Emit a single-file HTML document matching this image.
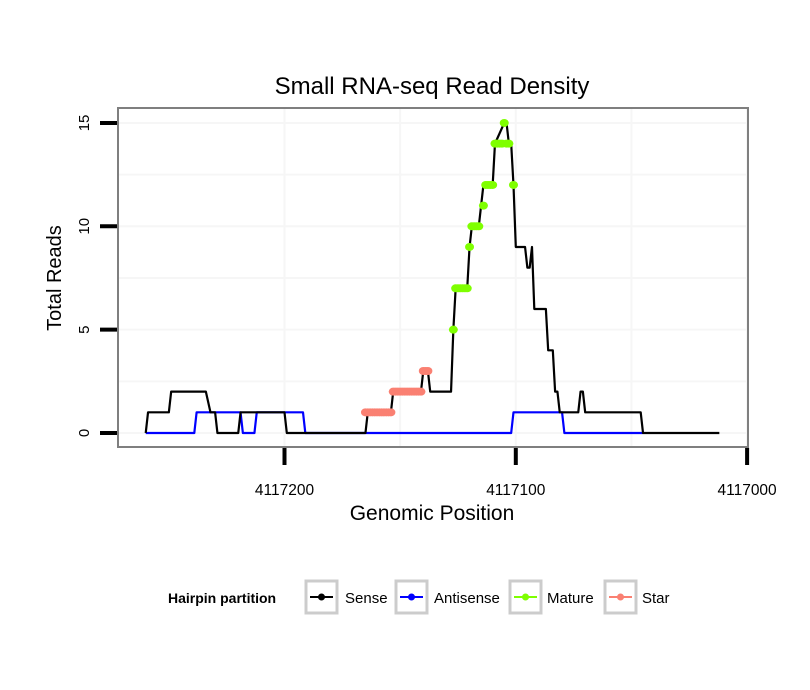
<!DOCTYPE html>
<html><head><meta charset="utf-8"><style>
body{margin:0;background:#fff;}
svg{display:block;font-family:"Liberation Sans",sans-serif;}
</style></head><body>
<svg id="chart" width="810" height="690" viewBox="0 0 810 690">
<text x="432" y="94" font-size="24" text-anchor="middle">Small RNA-seq Read Density</text>
<rect x="118" y="108" width="630" height="339" fill="#fff"/>
<g id="grid"></g>
<g id="series"></g>
<rect x="118" y="108" width="630" height="339" fill="none" stroke="#7f7f7f" stroke-width="2"/>
<g id="axes"></g>
<text x="432" y="520" font-size="21" text-anchor="middle">Genomic Position</text>
<text transform="translate(61,278) rotate(-90)" font-size="20" text-anchor="middle">Total Reads</text>
<g>
<text x="168" y="603" font-size="14" font-weight="bold">Hairpin partition</text>
<g><rect x="306" y="581" width="31" height="32" fill="none" stroke="#cccccc" stroke-width="3"/><line x1="310" y1="597" x2="333" y2="597" stroke="#000" stroke-width="2"/><circle cx="321.5" cy="597" r="3.5" fill="#000"/><text x="345" y="603" font-size="15">Sense</text></g>
<g><rect x="396" y="581" width="31" height="32" fill="none" stroke="#cccccc" stroke-width="3"/><line x1="400" y1="597" x2="423" y2="597" stroke="#0000ff" stroke-width="2"/><circle cx="411.5" cy="597" r="3.5" fill="#0000ff"/><text x="434" y="603" font-size="15">Antisense</text></g>
<g><rect x="510" y="581" width="31" height="32" fill="none" stroke="#cccccc" stroke-width="3"/><line x1="514" y1="597" x2="537" y2="597" stroke="#7fff00" stroke-width="2"/><circle cx="525.5" cy="597" r="3.5" fill="#7fff00"/><text x="547" y="603" font-size="15">Mature</text></g>
<g><rect x="605" y="581" width="31" height="32" fill="none" stroke="#cccccc" stroke-width="3"/><line x1="609" y1="597" x2="632" y2="597" stroke="#fa8072" stroke-width="2"/><circle cx="620.5" cy="597" r="3.5" fill="#fa8072"/><text x="642" y="603" font-size="15">Star</text></g>
</g>
</svg>
<script>
const senseX=[4117260,4117259,4117250,4117249,4117234,4117232,4117230,4117229,4117220,4117219,4117200,4117199,4117165,4117164,4117154,4117153,4117141,4117140,4117138,4117137,4117128,4117127,4117126,4117121,4117120,4117119,4117116,4117115,4117114,4117110,4117109,4117105,4117104,4117103,4117102,4117101,4117100,4117096,4117095,4117094,4117093,4117092,4117087,4117086,4117084,4117083,4117082,4117081,4117073,4117072,4117071,4117070,4117046,4117045,4117012];
const senseY=[0,1,1,2,2,1,1,0,0,1,1,0,0,1,1,2,2,3,3,2,2,5,7,7,9,10,10,11,12,12,14,15,15,14,14,12,9,9,8,8,9,6,6,4,4,2,2,1,1,2,2,1,1,0,0];
const antiX=[4117260,4117239,4117238,4117219,4117218,4117213,4117212,4117192,4117191,4117102,4117101,4117080,4117079,4117045];
const antiY=[0,0,1,1,0,0,1,1,0,0,1,1,0,0];
const matureX=[4117127,4117126,4117125,4117124,4117123,4117122,4117121,4117120,4117119,4117118,4117117,4117116,4117114,4117113,4117112,4117111,4117110,4117109,4117108,4117107,4117106,4117105,4117104,4117103,4117101];
const matureY=[5,7,7,7,7,7,7,9,10,10,10,10,11,12,12,12,12,14,14,14,14,15,14,14,12];
const starX=[4117165,4117164,4117163,4117162,4117161,4117160,4117159,4117158,4117157,4117156,4117155,4117154,4117153,4117152,4117151,4117150,4117149,4117148,4117147,4117146,4117145,4117144,4117143,4117142,4117141,4117140,4117139,4117138];
const starY=[1,1,1,1,1,1,1,1,1,1,1,1,2,2,2,2,2,2,2,2,2,2,2,2,2,3,3,3];
const xTicks=[4117200,4117100,4117000];
const yTicks=[0,5,10,15];
const xMinor=[4117150,4117050];
const yMinor=[2.5,7.5,12.5];

const NS='http://www.w3.org/2000/svg';
function X(p){return 284.5+(4117200-p)*2.313;}
function Y(v){return 433-v*20.67;}
function mk(tag,attrs,parent){const e=document.createElementNS(NS,tag);for(const k in attrs)e.setAttribute(k,attrs[k]);parent.appendChild(e);return e;}
const grid=document.getElementById('grid'),series=document.getElementById('series'),axes=document.getElementById('axes');
yMinor.concat(yTicks).forEach(v=>{const l=mk('line',{x1:119,x2:747,y1:Y(v),y2:Y(v),stroke:'#f6f6f6','stroke-width':2},grid);

});
xMinor.concat(xTicks).forEach(p=>{const l=mk('line',{x1:X(p),x2:X(p),y1:109,y2:446,stroke:'#f6f6f6','stroke-width':2},grid);

});
function line(xs,ys,color,name){const pts=xs.map((p,i)=>X(p)+','+Y(ys[i])).join(' ');
const l=mk('polyline',{points:pts,fill:'none',stroke:color,'stroke-width':2.2,'stroke-linejoin':'round'},series);

}
line(antiX,antiY,'#0000ff','antisense-line');
line(senseX,senseY,'#000000','sense-line');
function dots(xs,ys,color,name){xs.forEach((p,i)=>{const c=mk('ellipse',{cx:X(p),cy:Y(ys[i]),rx:4.5,ry:4,fill:color},series);

});}
dots(starX,starY,'#fa8072','star-point');
dots(matureX,matureY,'#7fff00','mature-point');
yTicks.forEach(v=>{const t=mk('line',{x1:100,x2:117,y1:Y(v),y2:Y(v),stroke:'#000','stroke-width':4},axes);


const tx=mk('text',{transform:'translate(89,'+Y(v)+') rotate(-90)','font-size':15,'text-anchor':'middle'},axes);tx.textContent=v;

});
xTicks.forEach(p=>{const t=mk('line',{x1:X(p),x2:X(p),y1:448,y2:465,stroke:'#000','stroke-width':4},axes);


const tx=mk('text',{x:X(p),y:495,'font-size':15.5,'text-anchor':'middle'},axes);tx.textContent=p;

});
</script>
</body></html>
